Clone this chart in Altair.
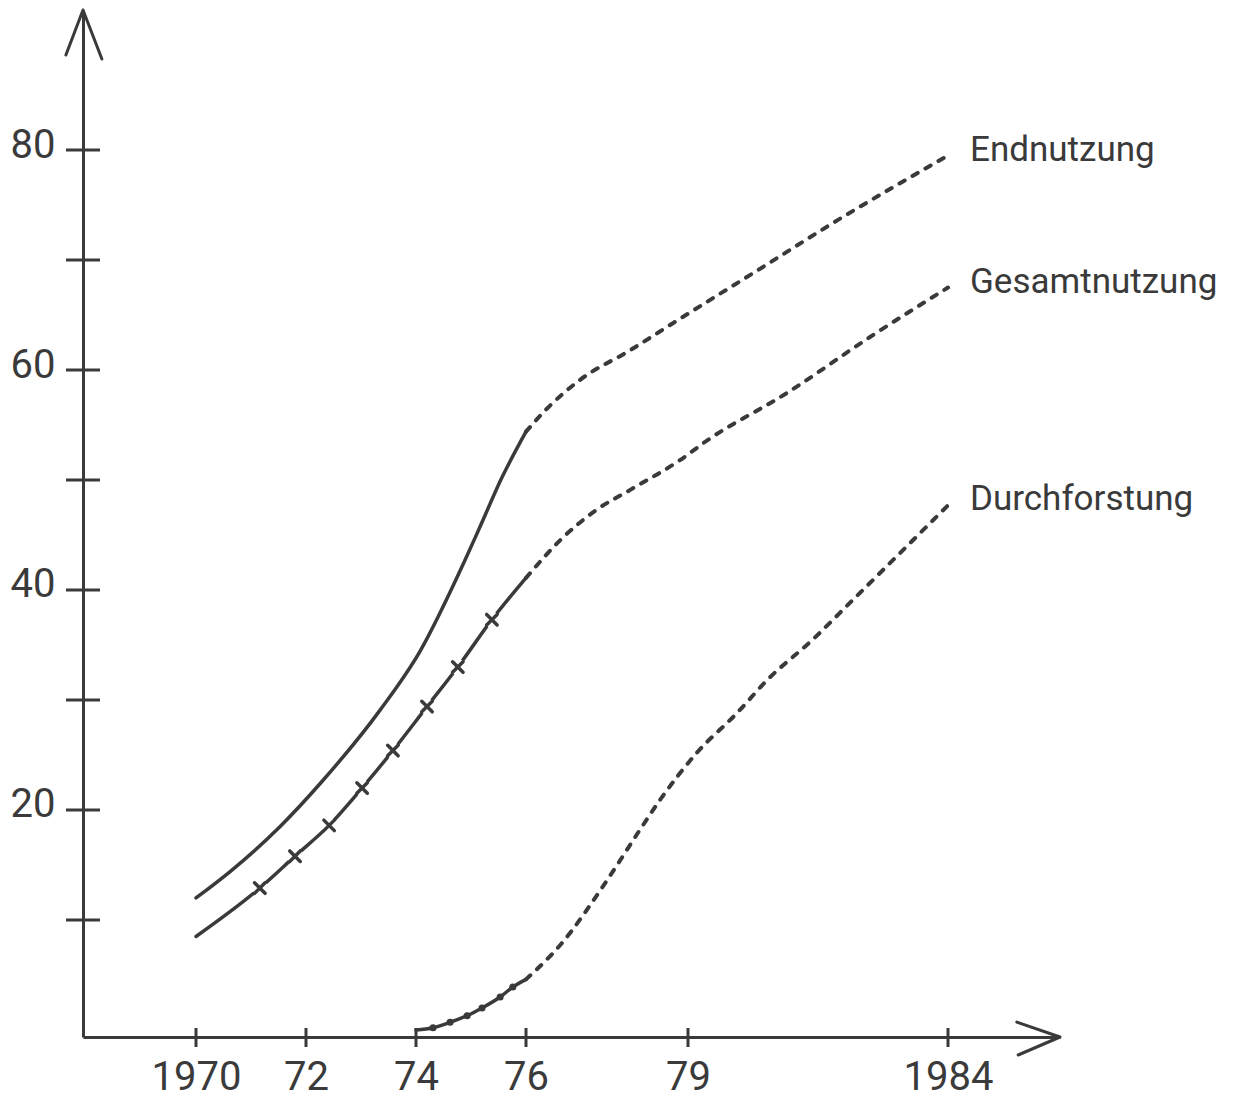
import altair as alt
import pandas as pd

# ---------------- data ----------------
x_tick_years = [1970, 1972, 1974, 1976, 1979, 1984]
y_minor_ticks = [10, 20, 30, 40, 50, 60, 70, 80]
y_label_values = [20, 40, 60, 80]

end_solid_x = [1970.0, 1970.62, 1971.53, 1972.31, 1973.35, 1974.07, 1974.89, 1975.16, 1975.56, 1976.0]
end_solid_y = [12.0, 14.4, 18.5, 22.7, 29.1, 34.4, 42.7, 45.7, 50.2, 54.4]
end_dash_x = [1976.0, 1976.39, 1977.0, 1977.93, 1978.8, 1980.25, 1981.87, 1984.0]
end_dash_y = [54.4, 56.5, 59.1, 61.8, 64.5, 68.8, 73.6, 79.5]

ges_solid_x = [1970.0, 1971.16, 1971.8, 1972.42, 1973.02, 1973.58, 1974.2, 1974.76, 1975.38, 1976.0]
ges_solid_y = [8.5, 12.9, 15.8, 18.6, 22.0, 25.4, 29.4, 33.0, 37.3, 41.1]
ges_marker_x = [1971.16, 1971.8, 1972.42, 1973.02, 1973.58, 1974.2, 1974.76, 1975.38]
ges_marker_y = [12.9, 15.8, 18.6, 22.0, 25.4, 29.4, 33.0, 37.3]
ges_dash_x = [1976.0, 1976.69, 1977.31, 1977.93, 1978.85, 1979.37, 1980.9, 1982.5, 1984.0]
ges_dash_y = [41.1, 44.8, 47.3, 49.1, 51.8, 53.6, 57.9, 63.0, 67.5]

dur_solid_x = [1974.0, 1974.31, 1974.62, 1974.93, 1975.2, 1975.53, 1975.76, 1976.0]
dur_solid_y = [0.0, 0.2, 0.7, 1.3, 2.0, 3.0, 3.9, 4.6]
dur_dot_x = [1974.31, 1974.62, 1974.93, 1975.2, 1975.53, 1975.76]
dur_dot_y = [0.2, 0.7, 1.3, 2.0, 3.0, 3.9]
dur_dash_x = [1976.0, 1976.63, 1977.5, 1978.11, 1978.48, 1979.17, 1979.94, 1980.52, 1981.4, 1982.17, 1984.0]
dur_dash_y = [4.6, 7.7, 13.6, 18.2, 20.9, 25.2, 28.8, 31.8, 35.5, 39.1, 47.7]

series_names = ["Endnutzung", "Gesamtnutzung", "Durchforstung"]
series_end_year = [1984, 1984, 1984]
series_end_value = [79.5, 67.5, 47.7]

# ---------------- styling ----------------
INK = "#3a3a3a"
FONT = "Roboto"
W, H = 977, 1027
X_MIN, X_MAX = 1967.95, 1986.15
Y_MIN, Y_MAX = -0.64, 92.73

xscale = alt.Scale(domain=[X_MIN, 1970, 1976, 1979, 1984, X_MAX],
                   range=[0, 113, 443, 605, 865, 977], nice=False, zero=False)
yscale = alt.Scale(domain=[Y_MIN, Y_MAX], nice=False, zero=False)

xaxis = alt.Axis(values=x_tick_years, title=None, grid=False, tickSize=0,
                 labelExpr="(datum.value == 1970 || datum.value == 1984) ? toString(datum.value) : substring(toString(datum.value), 2)",
                 labelFontSize=40, labelFont=FONT, labelColor=INK, labelPadding=20,
                 domainColor=INK, domainWidth=3, labelFlush=False)
yaxis = alt.Axis(values=y_label_values, title=None, grid=False, tickSize=0,
                 labelFontSize=40, labelFont=FONT, labelColor=INK, labelPadding=28,
                 labelBaseline="middle", labelOffset=-5,
                 domainColor=INK, domainWidth=3)

X = alt.X("year:Q", scale=xscale, axis=xaxis)
Y = alt.Y("value:Q", scale=yscale, axis=yaxis)


def frame(xs, ys):
    return pd.DataFrame({"year": xs, "value": ys})


def solid(xs, ys):
    return alt.Chart(frame(xs, ys)).mark_line(
        color=INK, strokeWidth=3.5, interpolate="monotone", strokeCap="round"
    ).encode(x=X, y=Y)


def dashed(xs, ys):
    return alt.Chart(frame(xs, ys)).mark_line(
        color=INK, strokeWidth=4, interpolate="monotone", strokeCap="round",
        strokeDash=[6, 9]
    ).encode(x=X, y=Y)


layers = [
    solid(end_solid_x, end_solid_y),
    dashed(end_dash_x, end_dash_y),
    solid(ges_solid_x, ges_solid_y),
    dashed(ges_dash_x, ges_dash_y),
    solid(dur_solid_x, dur_solid_y),
    dashed(dur_dash_x, dur_dash_y),
]

# gaps and crosses on Gesamtnutzung
layers.append(alt.Chart(frame(ges_marker_x, ges_marker_y)).mark_point(
    shape="circle", filled=True, color="white", size=260, opacity=1
).encode(x=X, y=Y))
layers.append(alt.Chart(frame(ges_marker_x, ges_marker_y)).mark_point(
    shape="M-1,-1L1,1M-1,1L1,-1", filled=False, stroke=INK, strokeWidth=3.5,
    size=110, opacity=1, strokeCap="round"
).encode(x=X, y=Y))

# dots on Durchforstung
layers.append(alt.Chart(frame(dur_dot_x, dur_dot_y)).mark_point(
    shape="circle", filled=True, color=INK, size=50, opacity=1
).encode(x=X, y=Y))

# crossing ticks
layers.append(alt.Chart(pd.DataFrame({"value": y_minor_ticks})).mark_rule(
    color=INK, strokeWidth=3
).encode(y=Y, x=alt.value(-17), x2=alt.value(17)))
layers.append(alt.Chart(pd.DataFrame({"year": x_tick_years})).mark_rule(
    color=INK, strokeWidth=3
).encode(x=X, y=alt.value(H - 9), y2=alt.value(H + 10)))

# arrow heads at the axis ends
ARROW_UP = "M-0.38,1L0,0L0.42,1.09"
ARROW_RIGHT = "M-0.96,-0.33L0,0L-0.93,0.4"
arrows = pd.DataFrame({"year": [X_MIN, X_MAX], "value": [Y_MAX, Y_MIN],
                       "shape": [ARROW_UP, ARROW_RIGHT]})
layers.append(alt.Chart(arrows).mark_point(
    filled=False, stroke=INK, strokeWidth=3, size=8100, opacity=1,
    strokeCap="round", strokeJoin="round"
).encode(x=X, y=Y, shape=alt.Shape("shape:N", scale=None)))

# series labels
labels = pd.DataFrame({"year": series_end_year, "value": series_end_value,
                       "name": series_names})
layers.append(alt.Chart(labels).mark_text(
    align="left", baseline="middle", dx=22, dy=-6, fontSize=35, font=FONT,
    color=INK
).encode(x=X, y=Y, text="name:N"))

chart = alt.layer(*layers).properties(
    width=W, height=H,
    autosize=alt.AutoSizeParams(type="none"),
    padding={"left": 75, "top": 2, "right": 162, "bottom": 64},
    background="white",
).configure_view(stroke=None)

chart.save("out.html", embed_options={"renderer": "svg", "actions": False})
